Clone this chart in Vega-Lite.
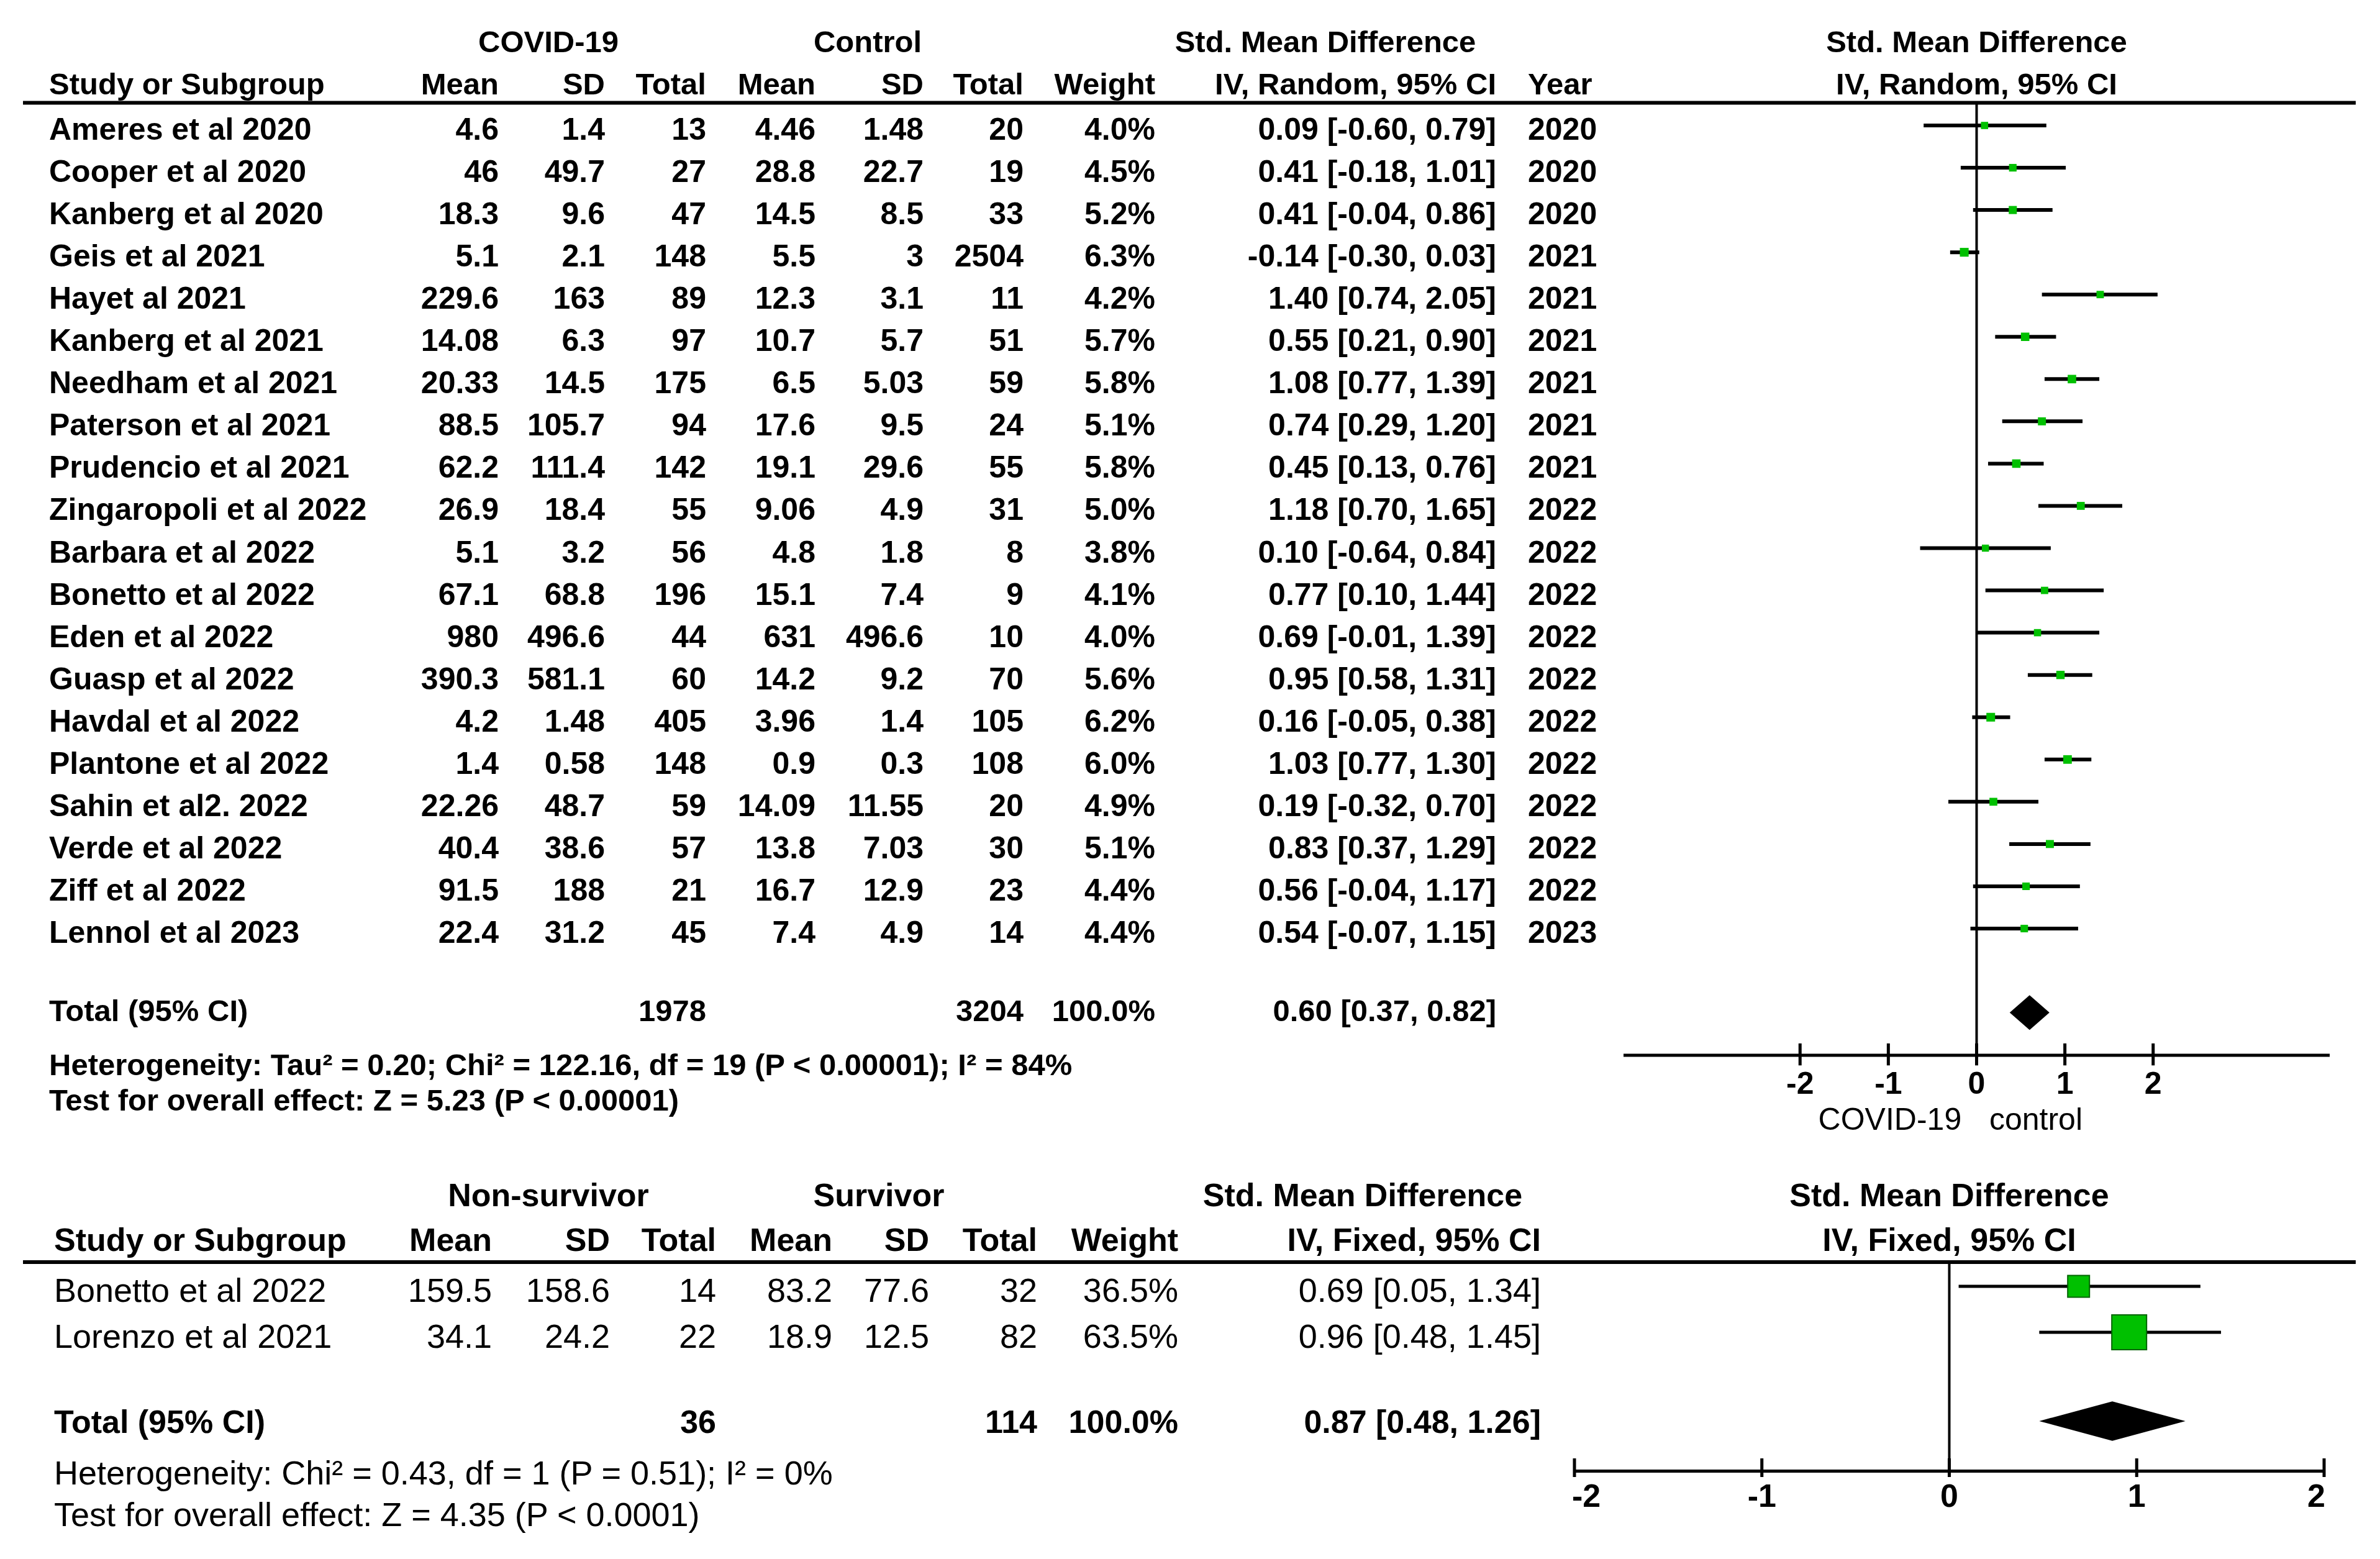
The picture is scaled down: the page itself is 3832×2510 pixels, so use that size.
{
"$schema": "https://vega.github.io/schema/vega-lite/v6.json",
"width": 3832, "height": 2510,
"autosize": {"type": "none"},
"padding": 0,
"background": "white",
"config": {"view": {"stroke": null}, "text": {"font": "Liberation Sans", "color": "black", "baseline": "middle"}, "rule": {"color": "black"}},
"datasets": {
"top": [
{"row":1,"study":"Ameres et al 2020","m1":4.6,"sd1":1.4,"n1":13,"m2":4.46,"sd2":1.48,"n2":20,"weight":0.040,"smd":0.09,"lo":-0.60,"hi":0.79,"ci":"0.09 [-0.60, 0.79]","year":2020},
{"row":2,"study":"Cooper et al 2020","m1":46,"sd1":49.7,"n1":27,"m2":28.8,"sd2":22.7,"n2":19,"weight":0.045,"smd":0.41,"lo":-0.18,"hi":1.01,"ci":"0.41 [-0.18, 1.01]","year":2020},
{"row":3,"study":"Kanberg et al 2020","m1":18.3,"sd1":9.6,"n1":47,"m2":14.5,"sd2":8.5,"n2":33,"weight":0.052,"smd":0.41,"lo":-0.04,"hi":0.86,"ci":"0.41 [-0.04, 0.86]","year":2020},
{"row":4,"study":"Geis et al 2021","m1":5.1,"sd1":2.1,"n1":148,"m2":5.5,"sd2":3,"n2":2504,"weight":0.063,"smd":-0.14,"lo":-0.30,"hi":0.03,"ci":"-0.14 [-0.30, 0.03]","year":2021},
{"row":5,"study":"Hayet al 2021","m1":229.6,"sd1":163,"n1":89,"m2":12.3,"sd2":3.1,"n2":11,"weight":0.042,"smd":1.40,"lo":0.74,"hi":2.05,"ci":"1.40 [0.74, 2.05]","year":2021},
{"row":6,"study":"Kanberg et al 2021","m1":14.08,"sd1":6.3,"n1":97,"m2":10.7,"sd2":5.7,"n2":51,"weight":0.057,"smd":0.55,"lo":0.21,"hi":0.90,"ci":"0.55 [0.21, 0.90]","year":2021},
{"row":7,"study":"Needham et al 2021","m1":20.33,"sd1":14.5,"n1":175,"m2":6.5,"sd2":5.03,"n2":59,"weight":0.058,"smd":1.08,"lo":0.77,"hi":1.39,"ci":"1.08 [0.77, 1.39]","year":2021},
{"row":8,"study":"Paterson et al 2021","m1":88.5,"sd1":105.7,"n1":94,"m2":17.6,"sd2":9.5,"n2":24,"weight":0.051,"smd":0.74,"lo":0.29,"hi":1.20,"ci":"0.74 [0.29, 1.20]","year":2021},
{"row":9,"study":"Prudencio et al 2021","m1":62.2,"sd1":111.4,"n1":142,"m2":19.1,"sd2":29.6,"n2":55,"weight":0.058,"smd":0.45,"lo":0.13,"hi":0.76,"ci":"0.45 [0.13, 0.76]","year":2021},
{"row":10,"study":"Zingaropoli et al 2022","m1":26.9,"sd1":18.4,"n1":55,"m2":9.06,"sd2":4.9,"n2":31,"weight":0.050,"smd":1.18,"lo":0.70,"hi":1.65,"ci":"1.18 [0.70, 1.65]","year":2022},
{"row":11,"study":"Barbara et al 2022","m1":5.1,"sd1":3.2,"n1":56,"m2":4.8,"sd2":1.8,"n2":8,"weight":0.038,"smd":0.10,"lo":-0.64,"hi":0.84,"ci":"0.10 [-0.64, 0.84]","year":2022},
{"row":12,"study":"Bonetto et al 2022","m1":67.1,"sd1":68.8,"n1":196,"m2":15.1,"sd2":7.4,"n2":9,"weight":0.041,"smd":0.77,"lo":0.10,"hi":1.44,"ci":"0.77 [0.10, 1.44]","year":2022},
{"row":13,"study":"Eden et al 2022","m1":980,"sd1":496.6,"n1":44,"m2":631,"sd2":496.6,"n2":10,"weight":0.040,"smd":0.69,"lo":-0.01,"hi":1.39,"ci":"0.69 [-0.01, 1.39]","year":2022},
{"row":14,"study":"Guasp et al 2022","m1":390.3,"sd1":581.1,"n1":60,"m2":14.2,"sd2":9.2,"n2":70,"weight":0.056,"smd":0.95,"lo":0.58,"hi":1.31,"ci":"0.95 [0.58, 1.31]","year":2022},
{"row":15,"study":"Havdal et al 2022","m1":4.2,"sd1":1.48,"n1":405,"m2":3.96,"sd2":1.4,"n2":105,"weight":0.062,"smd":0.16,"lo":-0.05,"hi":0.38,"ci":"0.16 [-0.05, 0.38]","year":2022},
{"row":16,"study":"Plantone et al 2022","m1":1.4,"sd1":0.58,"n1":148,"m2":0.9,"sd2":0.3,"n2":108,"weight":0.060,"smd":1.03,"lo":0.77,"hi":1.30,"ci":"1.03 [0.77, 1.30]","year":2022},
{"row":17,"study":"Sahin et al2. 2022","m1":22.26,"sd1":48.7,"n1":59,"m2":14.09,"sd2":11.55,"n2":20,"weight":0.049,"smd":0.19,"lo":-0.32,"hi":0.70,"ci":"0.19 [-0.32, 0.70]","year":2022},
{"row":18,"study":"Verde et al 2022","m1":40.4,"sd1":38.6,"n1":57,"m2":13.8,"sd2":7.03,"n2":30,"weight":0.051,"smd":0.83,"lo":0.37,"hi":1.29,"ci":"0.83 [0.37, 1.29]","year":2022},
{"row":19,"study":"Ziff et al 2022","m1":91.5,"sd1":188,"n1":21,"m2":16.7,"sd2":12.9,"n2":23,"weight":0.044,"smd":0.56,"lo":-0.04,"hi":1.17,"ci":"0.56 [-0.04, 1.17]","year":2022},
{"row":20,"study":"Lennol et al 2023","m1":22.4,"sd1":31.2,"n1":45,"m2":7.4,"sd2":4.9,"n2":14,"weight":0.044,"smd":0.54,"lo":-0.07,"hi":1.15,"ci":"0.54 [-0.07, 1.15]","year":2023}
],
"topTotal": [{"n1":1978,"n2":3204,"weight":1,"smd":0.60,"lo":0.37,"hi":0.82,"ci":"0.60 [0.37, 0.82]","het":"Heterogeneity: Tau² = 0.20; Chi² = 122.16, df = 19 (P < 0.00001); I² = 84%","test":"Test for overall effect: Z = 5.23 (P < 0.00001)"}],
"bottom": [
{"row":1,"study":"Bonetto et al 2022","m1":159.5,"sd1":158.6,"n1":14,"m2":83.2,"sd2":77.6,"n2":32,"weight":0.365,"smd":0.69,"lo":0.05,"hi":1.34,"ci":"0.69 [0.05, 1.34]"},
{"row":2,"study":"Lorenzo et al 2021","m1":34.1,"sd1":24.2,"n1":22,"m2":18.9,"sd2":12.5,"n2":82,"weight":0.635,"smd":0.96,"lo":0.48,"hi":1.45,"ci":"0.96 [0.48, 1.45]"}
],
"bottomTotal": [{"n1":36,"n2":114,"weight":1,"smd":0.87,"lo":0.48,"hi":1.26,"ci":"0.87 [0.48, 1.26]","het":"Heterogeneity: Chi² = 0.43, df = 1 (P = 0.51); I² = 0%","test":"Test for overall effect: Z = 4.35 (P < 0.0001)"}],
"ticks": [{"v":-2},{"v":-1},{"v":0},{"v":1},{"v":2}]
},
"layer": [
{"layer": [
{"data":{"name":"top"},"mark":{"type":"text","align":"left","fontSize":50,"fontWeight":"bold"},"encoding":{"x":{"datum":2.062,"type":"quantitative","scale":{"domain":[0,100],"nice":false,"zero":false},"axis":null},"y":{"field":"row","type":"quantitative","scale":{"domain":[-2.086,34.798],"reverse":true,"nice":false,"zero":false},"axis":null},"text":{"field":"study","type":"nominal"}}},
{"data":{"name":"top"},"mark":{"type":"text","align":"right","fontSize":50,"fontWeight":"bold"},"encoding":{"x":{"datum":20.955,"type":"quantitative","scale":{"domain":[0,100],"nice":false,"zero":false},"axis":null},"y":{"field":"row","type":"quantitative","scale":{"domain":[-2.086,34.798],"reverse":true,"nice":false,"zero":false},"axis":null},"text":{"field":"m1","type":"nominal"}}},
{"data":{"name":"top"},"mark":{"type":"text","align":"right","fontSize":50,"fontWeight":"bold"},"encoding":{"x":{"datum":25.418,"type":"quantitative","scale":{"domain":[0,100],"nice":false,"zero":false},"axis":null},"y":{"field":"row","type":"quantitative","scale":{"domain":[-2.086,34.798],"reverse":true,"nice":false,"zero":false},"axis":null},"text":{"field":"sd1","type":"nominal"}}},
{"data":{"name":"top"},"mark":{"type":"text","align":"right","fontSize":50,"fontWeight":"bold"},"encoding":{"x":{"datum":29.671,"type":"quantitative","scale":{"domain":[0,100],"nice":false,"zero":false},"axis":null},"y":{"field":"row","type":"quantitative","scale":{"domain":[-2.086,34.798],"reverse":true,"nice":false,"zero":false},"axis":null},"text":{"field":"n1","type":"nominal"}}},
{"data":{"name":"top"},"mark":{"type":"text","align":"right","fontSize":50,"fontWeight":"bold"},"encoding":{"x":{"datum":34.264,"type":"quantitative","scale":{"domain":[0,100],"nice":false,"zero":false},"axis":null},"y":{"field":"row","type":"quantitative","scale":{"domain":[-2.086,34.798],"reverse":true,"nice":false,"zero":false},"axis":null},"text":{"field":"m2","type":"nominal"}}},
{"data":{"name":"top"},"mark":{"type":"text","align":"right","fontSize":50,"fontWeight":"bold"},"encoding":{"x":{"datum":38.805,"type":"quantitative","scale":{"domain":[0,100],"nice":false,"zero":false},"axis":null},"y":{"field":"row","type":"quantitative","scale":{"domain":[-2.086,34.798],"reverse":true,"nice":false,"zero":false},"axis":null},"text":{"field":"sd2","type":"nominal"}}},
{"data":{"name":"top"},"mark":{"type":"text","align":"right","fontSize":50,"fontWeight":"bold"},"encoding":{"x":{"datum":43.006,"type":"quantitative","scale":{"domain":[0,100],"nice":false,"zero":false},"axis":null},"y":{"field":"row","type":"quantitative","scale":{"domain":[-2.086,34.798],"reverse":true,"nice":false,"zero":false},"axis":null},"text":{"field":"n2","type":"nominal"}}},
{"data":{"name":"top"},"mark":{"type":"text","align":"right","fontSize":50,"fontWeight":"bold"},"encoding":{"x":{"datum":48.539,"type":"quantitative","scale":{"domain":[0,100],"nice":false,"zero":false},"axis":null},"y":{"field":"row","type":"quantitative","scale":{"domain":[-2.086,34.798],"reverse":true,"nice":false,"zero":false},"axis":null},"text":{"field":"weight","type":"quantitative","format":".1%"}}},
{"data":{"name":"top"},"mark":{"type":"text","align":"right","fontSize":50,"fontWeight":"bold"},"encoding":{"x":{"datum":62.866,"type":"quantitative","scale":{"domain":[0,100],"nice":false,"zero":false},"axis":null},"y":{"field":"row","type":"quantitative","scale":{"domain":[-2.086,34.798],"reverse":true,"nice":false,"zero":false},"axis":null},"text":{"field":"ci","type":"nominal"}}},
{"data":{"name":"top"},"mark":{"type":"text","align":"left","fontSize":50,"fontWeight":"bold"},"encoding":{"x":{"datum":64.196,"type":"quantitative","scale":{"domain":[0,100],"nice":false,"zero":false},"axis":null},"y":{"field":"row","type":"quantitative","scale":{"domain":[-2.086,34.798],"reverse":true,"nice":false,"zero":false},"axis":null},"text":{"field":"year","type":"nominal"}}},
{"data":{"values":[{}]},"mark":{"type":"text","align":"center","fontSize":49,"fontWeight":"bold","text":"COVID-19"},"encoding":{"x":{"datum":23.043,"type":"quantitative","scale":{"domain":[0,100],"nice":false,"zero":false},"axis":null},"y":{"datum":-1.072,"type":"quantitative","scale":{"domain":[-2.086,34.798],"reverse":true,"nice":false,"zero":false},"axis":null}}},
{"data":{"values":[{}]},"mark":{"type":"text","align":"center","fontSize":49,"fontWeight":"bold","text":"Control"},"encoding":{"x":{"datum":36.456,"type":"quantitative","scale":{"domain":[0,100],"nice":false,"zero":false},"axis":null},"y":{"datum":-1.072,"type":"quantitative","scale":{"domain":[-2.086,34.798],"reverse":true,"nice":false,"zero":false},"axis":null}}},
{"data":{"values":[{}]},"mark":{"type":"text","align":"center","fontSize":49,"fontWeight":"bold","text":"Std. Mean Difference"},"encoding":{"x":{"datum":55.689,"type":"quantitative","scale":{"domain":[0,100],"nice":false,"zero":false},"axis":null},"y":{"datum":-1.072,"type":"quantitative","scale":{"domain":[-2.086,34.798],"reverse":true,"nice":false,"zero":false},"axis":null}}},
{"data":{"values":[{}]},"mark":{"type":"text","align":"left","fontSize":49,"fontWeight":"bold","text":"Study or Subgroup"},"encoding":{"x":{"datum":2.062,"type":"quantitative","scale":{"domain":[0,100],"nice":false,"zero":false},"axis":null},"y":{"datum":-0.073,"type":"quantitative","scale":{"domain":[-2.086,34.798],"reverse":true,"nice":false,"zero":false},"axis":null}}},
{"data":{"values":[{}]},"mark":{"type":"text","align":"right","fontSize":49,"fontWeight":"bold","text":"Mean"},"encoding":{"x":{"datum":20.955,"type":"quantitative","scale":{"domain":[0,100],"nice":false,"zero":false},"axis":null},"y":{"datum":-0.073,"type":"quantitative","scale":{"domain":[-2.086,34.798],"reverse":true,"nice":false,"zero":false},"axis":null}}},
{"data":{"values":[{}]},"mark":{"type":"text","align":"right","fontSize":49,"fontWeight":"bold","text":"SD"},"encoding":{"x":{"datum":25.418,"type":"quantitative","scale":{"domain":[0,100],"nice":false,"zero":false},"axis":null},"y":{"datum":-0.073,"type":"quantitative","scale":{"domain":[-2.086,34.798],"reverse":true,"nice":false,"zero":false},"axis":null}}},
{"data":{"values":[{}]},"mark":{"type":"text","align":"right","fontSize":49,"fontWeight":"bold","text":"Total"},"encoding":{"x":{"datum":29.671,"type":"quantitative","scale":{"domain":[0,100],"nice":false,"zero":false},"axis":null},"y":{"datum":-0.073,"type":"quantitative","scale":{"domain":[-2.086,34.798],"reverse":true,"nice":false,"zero":false},"axis":null}}},
{"data":{"values":[{}]},"mark":{"type":"text","align":"right","fontSize":49,"fontWeight":"bold","text":"Mean"},"encoding":{"x":{"datum":34.264,"type":"quantitative","scale":{"domain":[0,100],"nice":false,"zero":false},"axis":null},"y":{"datum":-0.073,"type":"quantitative","scale":{"domain":[-2.086,34.798],"reverse":true,"nice":false,"zero":false},"axis":null}}},
{"data":{"values":[{}]},"mark":{"type":"text","align":"right","fontSize":49,"fontWeight":"bold","text":"SD"},"encoding":{"x":{"datum":38.805,"type":"quantitative","scale":{"domain":[0,100],"nice":false,"zero":false},"axis":null},"y":{"datum":-0.073,"type":"quantitative","scale":{"domain":[-2.086,34.798],"reverse":true,"nice":false,"zero":false},"axis":null}}},
{"data":{"values":[{}]},"mark":{"type":"text","align":"right","fontSize":49,"fontWeight":"bold","text":"Total"},"encoding":{"x":{"datum":43.006,"type":"quantitative","scale":{"domain":[0,100],"nice":false,"zero":false},"axis":null},"y":{"datum":-0.073,"type":"quantitative","scale":{"domain":[-2.086,34.798],"reverse":true,"nice":false,"zero":false},"axis":null}}},
{"data":{"values":[{}]},"mark":{"type":"text","align":"right","fontSize":49,"fontWeight":"bold","text":"Weight"},"encoding":{"x":{"datum":48.539,"type":"quantitative","scale":{"domain":[0,100],"nice":false,"zero":false},"axis":null},"y":{"datum":-0.073,"type":"quantitative","scale":{"domain":[-2.086,34.798],"reverse":true,"nice":false,"zero":false},"axis":null}}},
{"data":{"values":[{}]},"mark":{"type":"text","align":"right","fontSize":49,"fontWeight":"bold","text":"IV, Random, 95% CI"},"encoding":{"x":{"datum":62.866,"type":"quantitative","scale":{"domain":[0,100],"nice":false,"zero":false},"axis":null},"y":{"datum":-0.073,"type":"quantitative","scale":{"domain":[-2.086,34.798],"reverse":true,"nice":false,"zero":false},"axis":null}}},
{"data":{"values":[{}]},"mark":{"type":"text","align":"left","fontSize":49,"fontWeight":"bold","text":"Year"},"encoding":{"x":{"datum":64.196,"type":"quantitative","scale":{"domain":[0,100],"nice":false,"zero":false},"axis":null},"y":{"datum":-0.073,"type":"quantitative","scale":{"domain":[-2.086,34.798],"reverse":true,"nice":false,"zero":false},"axis":null}}},
{"data":{"values":[{}]},"mark":{"type":"rule","strokeWidth":6,"color":"black"},"encoding":{"x":{"datum":0.966,"type":"quantitative","scale":{"domain":[0,100],"nice":false,"zero":false},"axis":null},"x2":{"datum":98.98},"y":{"datum":0.346,"type":"quantitative","scale":{"domain":[-2.086,34.798],"reverse":true,"nice":false,"zero":false},"axis":null}}},
{"data":{"name":"topTotal"},"mark":{"type":"text","align":"left","fontSize":49,"fontWeight":"bold","text":"Total (95% CI)"},"encoding":{"x":{"datum":2.062,"type":"quantitative","scale":{"domain":[0,100],"nice":false,"zero":false},"axis":null},"y":{"datum":21.85,"type":"quantitative","scale":{"domain":[-2.086,34.798],"reverse":true,"nice":false,"zero":false},"axis":null}}},
{"data":{"name":"topTotal"},"mark":{"type":"text","align":"right","fontSize":49,"fontWeight":"bold"},"encoding":{"x":{"datum":29.671,"type":"quantitative","scale":{"domain":[0,100],"nice":false,"zero":false},"axis":null},"y":{"datum":21.85,"type":"quantitative","scale":{"domain":[-2.086,34.798],"reverse":true,"nice":false,"zero":false},"axis":null},"text":{"field":"n1","type":"nominal"}}},
{"data":{"name":"topTotal"},"mark":{"type":"text","align":"right","fontSize":49,"fontWeight":"bold"},"encoding":{"x":{"datum":43.006,"type":"quantitative","scale":{"domain":[0,100],"nice":false,"zero":false},"axis":null},"y":{"datum":21.85,"type":"quantitative","scale":{"domain":[-2.086,34.798],"reverse":true,"nice":false,"zero":false},"axis":null},"text":{"field":"n2","type":"nominal"}}},
{"data":{"name":"topTotal"},"mark":{"type":"text","align":"right","fontSize":49,"fontWeight":"bold"},"encoding":{"x":{"datum":48.539,"type":"quantitative","scale":{"domain":[0,100],"nice":false,"zero":false},"axis":null},"y":{"datum":21.85,"type":"quantitative","scale":{"domain":[-2.086,34.798],"reverse":true,"nice":false,"zero":false},"axis":null},"text":{"field":"weight","type":"quantitative","format":".1%"}}},
{"data":{"name":"topTotal"},"mark":{"type":"text","align":"right","fontSize":49,"fontWeight":"bold"},"encoding":{"x":{"datum":62.866,"type":"quantitative","scale":{"domain":[0,100],"nice":false,"zero":false},"axis":null},"y":{"datum":21.85,"type":"quantitative","scale":{"domain":[-2.086,34.798],"reverse":true,"nice":false,"zero":false},"axis":null},"text":{"field":"ci","type":"nominal"}}},
{"data":{"name":"topTotal"},"mark":{"type":"text","align":"left","fontSize":49,"fontWeight":"bold"},"encoding":{"x":{"datum":2.062,"type":"quantitative","scale":{"domain":[0,100],"nice":false,"zero":false},"axis":null},"y":{"datum":23.13,"type":"quantitative","scale":{"domain":[-2.086,34.798],"reverse":true,"nice":false,"zero":false},"axis":null},"text":{"field":"het","type":"nominal"}}},
{"data":{"name":"topTotal"},"mark":{"type":"text","align":"left","fontSize":49,"fontWeight":"bold"},"encoding":{"x":{"datum":2.062,"type":"quantitative","scale":{"domain":[0,100],"nice":false,"zero":false},"axis":null},"y":{"datum":23.97,"type":"quantitative","scale":{"domain":[-2.086,34.798],"reverse":true,"nice":false,"zero":false},"axis":null},"text":{"field":"test","type":"nominal"}}}
]},
{"layer": [
{"data":{"name":"top"},"mark":{"type":"rule","strokeWidth":6,"color":"black","yOffset":-8},"encoding":{"x":{"field":"lo","type":"quantitative","scale":{"domain":[-4,4],"range":[2614,3751],"nice":false,"zero":false},"axis":null},"x2":{"field":"hi"},"y":{"field":"row","type":"quantitative","scale":{"domain":[-2.086,34.798],"reverse":true,"nice":false,"zero":false},"axis":null}}},
{"data":{"values":[{}]},"mark":{"type":"rule","strokeWidth":4,"color":"black"},"encoding":{"x":{"datum":0,"type":"quantitative","scale":{"domain":[-4,4],"range":[2614,3751],"nice":false,"zero":false},"axis":null},"y":{"datum":0.346,"type":"quantitative","scale":{"domain":[-2.086,34.798],"reverse":true,"nice":false,"zero":false},"axis":null},"y2":{"datum":22.88}}},
{"data":{"values":[{}]},"mark":{"type":"rule","strokeWidth":5,"color":"black"},"encoding":{"x":{"datum":-4,"type":"quantitative","scale":{"domain":[-4,4],"range":[2614,3751],"nice":false,"zero":false},"axis":null},"x2":{"datum":4},"y":{"datum":22.88,"type":"quantitative","scale":{"domain":[-2.086,34.798],"reverse":true,"nice":false,"zero":false},"axis":null}}},
{"data":{"name":"ticks"},"mark":{"type":"rule","strokeWidth":5,"color":"black"},"encoding":{"x":{"field":"v","type":"quantitative","scale":{"domain":[-4,4],"range":[2614,3751],"nice":false,"zero":false},"axis":null},"y":{"datum":22.60,"type":"quantitative","scale":{"domain":[-2.086,34.798],"reverse":true,"nice":false,"zero":false},"axis":null},"y2":{"datum":23.12}}},
{"data":{"name":"ticks"},"mark":{"type":"text","align":"center","fontSize":50,"fontWeight":"bold"},"encoding":{"x":{"field":"v","type":"quantitative","scale":{"domain":[-4,4],"range":[2614,3751],"nice":false,"zero":false},"axis":null},"y":{"datum":23.57,"type":"quantitative","scale":{"domain":[-2.086,34.798],"reverse":true,"nice":false,"zero":false},"axis":null},"text":{"field":"v","type":"nominal"}}},
{"data":{"name":"top"},"mark":{"type":"square","color":"#00c000","opacity":1,"yOffset":-8},"encoding":{"x":{"field":"smd","type":"quantitative","scale":{"domain":[-4,4],"range":[2614,3751],"nice":false,"zero":false},"axis":null},"y":{"field":"row","type":"quantitative","scale":{"domain":[-2.086,34.798],"reverse":true,"nice":false,"zero":false},"axis":null},"size":{"field":"weight","type":"quantitative","scale":{"domain":[0.038,0.063],"range":[130,200]},"legend":null}}},
{"data":{"name":"topTotal"},"mark":{"type":"point","shape":"M-1,0L0,-0.875L1,0L0,0.875Z","filled":true,"color":"black","opacity":1,"size":4096},"encoding":{"x":{"field":"smd","type":"quantitative","scale":{"domain":[-4,4],"range":[2614,3751],"nice":false,"zero":false},"axis":null},"y":{"datum":21.87,"type":"quantitative","scale":{"domain":[-2.086,34.798],"reverse":true,"nice":false,"zero":false},"axis":null}}},
{"data":{"values":[{}]},"mark":{"type":"text","align":"center","fontSize":49,"fontWeight":"bold","text":"Std. Mean Difference"},"encoding":{"x":{"datum":0,"type":"quantitative","scale":{"domain":[-4,4],"range":[2614,3751],"nice":false,"zero":false},"axis":null},"y":{"datum":-1.072,"type":"quantitative","scale":{"domain":[-2.086,34.798],"reverse":true,"nice":false,"zero":false},"axis":null}}},
{"data":{"values":[{}]},"mark":{"type":"text","align":"center","fontSize":49,"fontWeight":"bold","text":"IV, Random, 95% CI"},"encoding":{"x":{"datum":0,"type":"quantitative","scale":{"domain":[-4,4],"range":[2614,3751],"nice":false,"zero":false},"axis":null},"y":{"datum":-0.073,"type":"quantitative","scale":{"domain":[-2.086,34.798],"reverse":true,"nice":false,"zero":false},"axis":null}}},
{"data":{"values":[{}]},"mark":{"type":"text","align":"right","fontSize":50,"text":"COVID-19"},"encoding":{"x":{"datum":-0.171,"type":"quantitative","scale":{"domain":[-4,4],"range":[2614,3751],"nice":false,"zero":false},"axis":null},"y":{"datum":24.42,"type":"quantitative","scale":{"domain":[-2.086,34.798],"reverse":true,"nice":false,"zero":false},"axis":null}}},
{"data":{"values":[{}]},"mark":{"type":"text","align":"left","fontSize":50,"text":"control"},"encoding":{"x":{"datum":0.144,"type":"quantitative","scale":{"domain":[-4,4],"range":[2614,3751],"nice":false,"zero":false},"axis":null},"y":{"datum":24.42,"type":"quantitative","scale":{"domain":[-2.086,34.798],"reverse":true,"nice":false,"zero":false},"axis":null}}}
]},
{"layer": [
{"data":{"name":"bottom"},"mark":{"type":"text","align":"left","fontSize":54},"encoding":{"x":{"datum":2.270,"type":"quantitative","scale":{"domain":[0,100],"nice":false,"zero":false},"axis":null},"y":{"field":"row","type":"quantitative","scale":{"domain":[-27.108,6.811],"reverse":true,"nice":false,"zero":false},"axis":null},"text":{"field":"study","type":"nominal"}}},
{"data":{"name":"bottom"},"mark":{"type":"text","align":"right","fontSize":54},"encoding":{"x":{"datum":20.668,"type":"quantitative","scale":{"domain":[0,100],"nice":false,"zero":false},"axis":null},"y":{"field":"row","type":"quantitative","scale":{"domain":[-27.108,6.811],"reverse":true,"nice":false,"zero":false},"axis":null},"text":{"field":"m1","type":"nominal"}}},
{"data":{"name":"bottom"},"mark":{"type":"text","align":"right","fontSize":54},"encoding":{"x":{"datum":25.626,"type":"quantitative","scale":{"domain":[0,100],"nice":false,"zero":false},"axis":null},"y":{"field":"row","type":"quantitative","scale":{"domain":[-27.108,6.811],"reverse":true,"nice":false,"zero":false},"axis":null},"text":{"field":"sd1","type":"nominal"}}},
{"data":{"name":"bottom"},"mark":{"type":"text","align":"right","fontSize":54},"encoding":{"x":{"datum":30.089,"type":"quantitative","scale":{"domain":[0,100],"nice":false,"zero":false},"axis":null},"y":{"field":"row","type":"quantitative","scale":{"domain":[-27.108,6.811],"reverse":true,"nice":false,"zero":false},"axis":null},"text":{"field":"n1","type":"nominal"}}},
{"data":{"name":"bottom"},"mark":{"type":"text","align":"right","fontSize":54},"encoding":{"x":{"datum":34.969,"type":"quantitative","scale":{"domain":[0,100],"nice":false,"zero":false},"axis":null},"y":{"field":"row","type":"quantitative","scale":{"domain":[-27.108,6.811],"reverse":true,"nice":false,"zero":false},"axis":null},"text":{"field":"m2","type":"nominal"}}},
{"data":{"name":"bottom"},"mark":{"type":"text","align":"right","fontSize":54},"encoding":{"x":{"datum":39.040,"type":"quantitative","scale":{"domain":[0,100],"nice":false,"zero":false},"axis":null},"y":{"field":"row","type":"quantitative","scale":{"domain":[-27.108,6.811],"reverse":true,"nice":false,"zero":false},"axis":null},"text":{"field":"sd2","type":"nominal"}}},
{"data":{"name":"bottom"},"mark":{"type":"text","align":"right","fontSize":54},"encoding":{"x":{"datum":43.580,"type":"quantitative","scale":{"domain":[0,100],"nice":false,"zero":false},"axis":null},"y":{"field":"row","type":"quantitative","scale":{"domain":[-27.108,6.811],"reverse":true,"nice":false,"zero":false},"axis":null},"text":{"field":"n2","type":"nominal"}}},
{"data":{"name":"bottom"},"mark":{"type":"text","align":"right","fontSize":54},"encoding":{"x":{"datum":49.504,"type":"quantitative","scale":{"domain":[0,100],"nice":false,"zero":false},"axis":null},"y":{"field":"row","type":"quantitative","scale":{"domain":[-27.108,6.811],"reverse":true,"nice":false,"zero":false},"axis":null},"text":{"field":"weight","type":"quantitative","format":".1%"}}},
{"data":{"name":"bottom"},"mark":{"type":"text","align":"right","fontSize":54},"encoding":{"x":{"datum":64.744,"type":"quantitative","scale":{"domain":[0,100],"nice":false,"zero":false},"axis":null},"y":{"field":"row","type":"quantitative","scale":{"domain":[-27.108,6.811],"reverse":true,"nice":false,"zero":false},"axis":null},"text":{"field":"ci","type":"nominal"}}},
{"data":{"values":[{}]},"mark":{"type":"text","align":"center","fontSize":52,"fontWeight":"bold","text":"Non-survivor"},"encoding":{"x":{"datum":23.043,"type":"quantitative","scale":{"domain":[0,100],"nice":false,"zero":false},"axis":null},"y":{"datum":-1.081,"type":"quantitative","scale":{"domain":[-27.108,6.811],"reverse":true,"nice":false,"zero":false},"axis":null}}},
{"data":{"values":[{}]},"mark":{"type":"text","align":"center","fontSize":52,"fontWeight":"bold","text":"Survivor"},"encoding":{"x":{"datum":36.926,"type":"quantitative","scale":{"domain":[0,100],"nice":false,"zero":false},"axis":null},"y":{"datum":-1.081,"type":"quantitative","scale":{"domain":[-27.108,6.811],"reverse":true,"nice":false,"zero":false},"axis":null}}},
{"data":{"values":[{}]},"mark":{"type":"text","align":"center","fontSize":52,"fontWeight":"bold","text":"Std. Mean Difference"},"encoding":{"x":{"datum":57.255,"type":"quantitative","scale":{"domain":[0,100],"nice":false,"zero":false},"axis":null},"y":{"datum":-1.081,"type":"quantitative","scale":{"domain":[-27.108,6.811],"reverse":true,"nice":false,"zero":false},"axis":null}}},
{"data":{"values":[{}]},"mark":{"type":"text","align":"left","fontSize":52,"fontWeight":"bold","text":"Study or Subgroup"},"encoding":{"x":{"datum":2.270,"type":"quantitative","scale":{"domain":[0,100],"nice":false,"zero":false},"axis":null},"y":{"datum":-0.108,"type":"quantitative","scale":{"domain":[-27.108,6.811],"reverse":true,"nice":false,"zero":false},"axis":null}}},
{"data":{"values":[{}]},"mark":{"type":"text","align":"right","fontSize":52,"fontWeight":"bold","text":"Mean"},"encoding":{"x":{"datum":20.668,"type":"quantitative","scale":{"domain":[0,100],"nice":false,"zero":false},"axis":null},"y":{"datum":-0.108,"type":"quantitative","scale":{"domain":[-27.108,6.811],"reverse":true,"nice":false,"zero":false},"axis":null}}},
{"data":{"values":[{}]},"mark":{"type":"text","align":"right","fontSize":52,"fontWeight":"bold","text":"SD"},"encoding":{"x":{"datum":25.626,"type":"quantitative","scale":{"domain":[0,100],"nice":false,"zero":false},"axis":null},"y":{"datum":-0.108,"type":"quantitative","scale":{"domain":[-27.108,6.811],"reverse":true,"nice":false,"zero":false},"axis":null}}},
{"data":{"values":[{}]},"mark":{"type":"text","align":"right","fontSize":52,"fontWeight":"bold","text":"Total"},"encoding":{"x":{"datum":30.089,"type":"quantitative","scale":{"domain":[0,100],"nice":false,"zero":false},"axis":null},"y":{"datum":-0.108,"type":"quantitative","scale":{"domain":[-27.108,6.811],"reverse":true,"nice":false,"zero":false},"axis":null}}},
{"data":{"values":[{}]},"mark":{"type":"text","align":"right","fontSize":52,"fontWeight":"bold","text":"Mean"},"encoding":{"x":{"datum":34.969,"type":"quantitative","scale":{"domain":[0,100],"nice":false,"zero":false},"axis":null},"y":{"datum":-0.108,"type":"quantitative","scale":{"domain":[-27.108,6.811],"reverse":true,"nice":false,"zero":false},"axis":null}}},
{"data":{"values":[{}]},"mark":{"type":"text","align":"right","fontSize":52,"fontWeight":"bold","text":"SD"},"encoding":{"x":{"datum":39.040,"type":"quantitative","scale":{"domain":[0,100],"nice":false,"zero":false},"axis":null},"y":{"datum":-0.108,"type":"quantitative","scale":{"domain":[-27.108,6.811],"reverse":true,"nice":false,"zero":false},"axis":null}}},
{"data":{"values":[{}]},"mark":{"type":"text","align":"right","fontSize":52,"fontWeight":"bold","text":"Total"},"encoding":{"x":{"datum":43.580,"type":"quantitative","scale":{"domain":[0,100],"nice":false,"zero":false},"axis":null},"y":{"datum":-0.108,"type":"quantitative","scale":{"domain":[-27.108,6.811],"reverse":true,"nice":false,"zero":false},"axis":null}}},
{"data":{"values":[{}]},"mark":{"type":"text","align":"right","fontSize":52,"fontWeight":"bold","text":"Weight"},"encoding":{"x":{"datum":49.504,"type":"quantitative","scale":{"domain":[0,100],"nice":false,"zero":false},"axis":null},"y":{"datum":-0.108,"type":"quantitative","scale":{"domain":[-27.108,6.811],"reverse":true,"nice":false,"zero":false},"axis":null}}},
{"data":{"values":[{}]},"mark":{"type":"text","align":"right","fontSize":52,"fontWeight":"bold","text":"IV, Fixed, 95% CI"},"encoding":{"x":{"datum":64.744,"type":"quantitative","scale":{"domain":[0,100],"nice":false,"zero":false},"axis":null},"y":{"datum":-0.108,"type":"quantitative","scale":{"domain":[-27.108,6.811],"reverse":true,"nice":false,"zero":false},"axis":null}}},
{"data":{"values":[{}]},"mark":{"type":"rule","strokeWidth":6,"color":"black"},"encoding":{"x":{"datum":0.966,"type":"quantitative","scale":{"domain":[0,100],"nice":false,"zero":false},"axis":null},"x2":{"datum":98.98},"y":{"datum":0.351,"type":"quantitative","scale":{"domain":[-27.108,6.811],"reverse":true,"nice":false,"zero":false},"axis":null}}},
{"data":{"name":"bottomTotal"},"mark":{"type":"text","align":"left","fontSize":52,"fontWeight":"bold","text":"Total (95% CI)"},"encoding":{"x":{"datum":2.270,"type":"quantitative","scale":{"domain":[0,100],"nice":false,"zero":false},"axis":null},"y":{"datum":3.851,"type":"quantitative","scale":{"domain":[-27.108,6.811],"reverse":true,"nice":false,"zero":false},"axis":null}}},
{"data":{"name":"bottomTotal"},"mark":{"type":"text","align":"right","fontSize":52,"fontWeight":"bold"},"encoding":{"x":{"datum":30.089,"type":"quantitative","scale":{"domain":[0,100],"nice":false,"zero":false},"axis":null},"y":{"datum":3.851,"type":"quantitative","scale":{"domain":[-27.108,6.811],"reverse":true,"nice":false,"zero":false},"axis":null},"text":{"field":"n1","type":"nominal"}}},
{"data":{"name":"bottomTotal"},"mark":{"type":"text","align":"right","fontSize":52,"fontWeight":"bold"},"encoding":{"x":{"datum":43.580,"type":"quantitative","scale":{"domain":[0,100],"nice":false,"zero":false},"axis":null},"y":{"datum":3.851,"type":"quantitative","scale":{"domain":[-27.108,6.811],"reverse":true,"nice":false,"zero":false},"axis":null},"text":{"field":"n2","type":"nominal"}}},
{"data":{"name":"bottomTotal"},"mark":{"type":"text","align":"right","fontSize":52,"fontWeight":"bold"},"encoding":{"x":{"datum":49.504,"type":"quantitative","scale":{"domain":[0,100],"nice":false,"zero":false},"axis":null},"y":{"datum":3.851,"type":"quantitative","scale":{"domain":[-27.108,6.811],"reverse":true,"nice":false,"zero":false},"axis":null},"text":{"field":"weight","type":"quantitative","format":".1%"}}},
{"data":{"name":"bottomTotal"},"mark":{"type":"text","align":"right","fontSize":52,"fontWeight":"bold"},"encoding":{"x":{"datum":64.744,"type":"quantitative","scale":{"domain":[0,100],"nice":false,"zero":false},"axis":null},"y":{"datum":3.851,"type":"quantitative","scale":{"domain":[-27.108,6.811],"reverse":true,"nice":false,"zero":false},"axis":null},"text":{"field":"ci","type":"nominal"}}},
{"data":{"name":"bottomTotal"},"mark":{"type":"text","align":"left","fontSize":54},"encoding":{"x":{"datum":2.270,"type":"quantitative","scale":{"domain":[0,100],"nice":false,"zero":false},"axis":null},"y":{"datum":4.973,"type":"quantitative","scale":{"domain":[-27.108,6.811],"reverse":true,"nice":false,"zero":false},"axis":null},"text":{"field":"het","type":"nominal"}}},
{"data":{"name":"bottomTotal"},"mark":{"type":"text","align":"left","fontSize":54},"encoding":{"x":{"datum":2.270,"type":"quantitative","scale":{"domain":[0,100],"nice":false,"zero":false},"axis":null},"y":{"datum":5.878,"type":"quantitative","scale":{"domain":[-27.108,6.811],"reverse":true,"nice":false,"zero":false},"axis":null},"text":{"field":"test","type":"nominal"}}}
]},
{"layer": [
{"data":{"name":"bottom"},"mark":{"type":"rule","strokeWidth":5,"color":"black","yOffset":-9},"encoding":{"x":{"field":"lo","type":"quantitative","scale":{"domain":[-2,2],"range":[2535,3742],"nice":false,"zero":false},"axis":null},"x2":{"field":"hi"},"y":{"field":"row","type":"quantitative","scale":{"domain":[-27.108,6.811],"reverse":true,"nice":false,"zero":false},"axis":null}}},
{"data":{"values":[{}]},"mark":{"type":"rule","strokeWidth":4,"color":"black"},"encoding":{"x":{"datum":0,"type":"quantitative","scale":{"domain":[-2,2],"range":[2535,3742],"nice":false,"zero":false},"axis":null},"y":{"datum":0.351,"type":"quantitative","scale":{"domain":[-27.108,6.811],"reverse":true,"nice":false,"zero":false},"axis":null},"y2":{"datum":4.9}}},
{"data":{"values":[{}]},"mark":{"type":"rule","strokeWidth":5,"color":"black"},"encoding":{"x":{"datum":-2,"type":"quantitative","scale":{"domain":[-2,2],"range":[2535,3742],"nice":false,"zero":false},"axis":null},"x2":{"datum":2},"y":{"datum":4.9,"type":"quantitative","scale":{"domain":[-27.108,6.811],"reverse":true,"nice":false,"zero":false},"axis":null}}},
{"data":{"name":"ticks"},"mark":{"type":"rule","strokeWidth":5,"color":"black"},"encoding":{"x":{"field":"v","type":"quantitative","scale":{"domain":[-2,2],"range":[2535,3742],"nice":false,"zero":false},"axis":null},"y":{"datum":4.622,"type":"quantitative","scale":{"domain":[-27.108,6.811],"reverse":true,"nice":false,"zero":false},"axis":null},"y2":{"datum":5.027}}},
{"data":{"name":"ticks"},"transform":[{"filter":"datum.v > -2 && datum.v < 2"}],"mark":{"type":"text","align":"center","fontSize":52,"fontWeight":"bold"},"encoding":{"x":{"field":"v","type":"quantitative","scale":{"domain":[-2,2],"range":[2535,3742],"nice":false,"zero":false},"axis":null},"y":{"datum":5.46,"type":"quantitative","scale":{"domain":[-27.108,6.811],"reverse":true,"nice":false,"zero":false},"axis":null},"text":{"field":"v","type":"nominal"}}},
{"data":{"name":"ticks"},"transform":[{"filter":"datum.v == -2"}],"mark":{"type":"text","align":"left","fontSize":52,"fontWeight":"bold","dx":-4},"encoding":{"x":{"field":"v","type":"quantitative","scale":{"domain":[-2,2],"range":[2535,3742],"nice":false,"zero":false},"axis":null},"y":{"datum":5.46,"type":"quantitative","scale":{"domain":[-27.108,6.811],"reverse":true,"nice":false,"zero":false},"axis":null},"text":{"field":"v","type":"nominal"}}},
{"data":{"name":"ticks"},"transform":[{"filter":"datum.v == 2"}],"mark":{"type":"text","align":"right","fontSize":52,"fontWeight":"bold","dx":2},"encoding":{"x":{"field":"v","type":"quantitative","scale":{"domain":[-2,2],"range":[2535,3742],"nice":false,"zero":false},"axis":null},"y":{"datum":5.46,"type":"quantitative","scale":{"domain":[-27.108,6.811],"reverse":true,"nice":false,"zero":false},"axis":null},"text":{"field":"v","type":"nominal"}}},
{"data":{"name":"bottom"},"mark":{"type":"square","color":"#00c000","stroke":"#006400","strokeWidth":2,"opacity":1,"yOffset":-9},"encoding":{"x":{"field":"smd","type":"quantitative","scale":{"domain":[-2,2],"range":[2535,3742],"nice":false,"zero":false},"axis":null},"y":{"field":"row","type":"quantitative","scale":{"domain":[-27.108,6.811],"reverse":true,"nice":false,"zero":false},"axis":null},"size":{"field":"weight","type":"quantitative","scale":{"domain":[0.365,0.635],"range":[1225,3136]},"legend":null}}},
{"data":{"name":"bottomTotal"},"mark":{"type":"point","shape":"M-1,0L0,-0.27L1,0L0,0.27Z","filled":true,"color":"black","opacity":1,"size":55413},"encoding":{"x":{"field":"smd","type":"quantitative","scale":{"domain":[-2,2],"range":[2535,3742],"nice":false,"zero":false},"axis":null},"y":{"datum":3.81,"type":"quantitative","scale":{"domain":[-27.108,6.811],"reverse":true,"nice":false,"zero":false},"axis":null}}},
{"data":{"values":[{}]},"mark":{"type":"text","align":"center","fontSize":52,"fontWeight":"bold","text":"Std. Mean Difference"},"encoding":{"x":{"datum":0,"type":"quantitative","scale":{"domain":[-2,2],"range":[2535,3742],"nice":false,"zero":false},"axis":null},"y":{"datum":-1.081,"type":"quantitative","scale":{"domain":[-27.108,6.811],"reverse":true,"nice":false,"zero":false},"axis":null}}},
{"data":{"values":[{}]},"mark":{"type":"text","align":"center","fontSize":52,"fontWeight":"bold","text":"IV, Fixed, 95% CI"},"encoding":{"x":{"datum":0,"type":"quantitative","scale":{"domain":[-2,2],"range":[2535,3742],"nice":false,"zero":false},"axis":null},"y":{"datum":-0.108,"type":"quantitative","scale":{"domain":[-27.108,6.811],"reverse":true,"nice":false,"zero":false},"axis":null}}}
]}
],
"resolve": {"scale": {"x": "independent", "y": "independent", "size": "independent"}, "axis": {"x": "independent", "y": "independent"}}
}
